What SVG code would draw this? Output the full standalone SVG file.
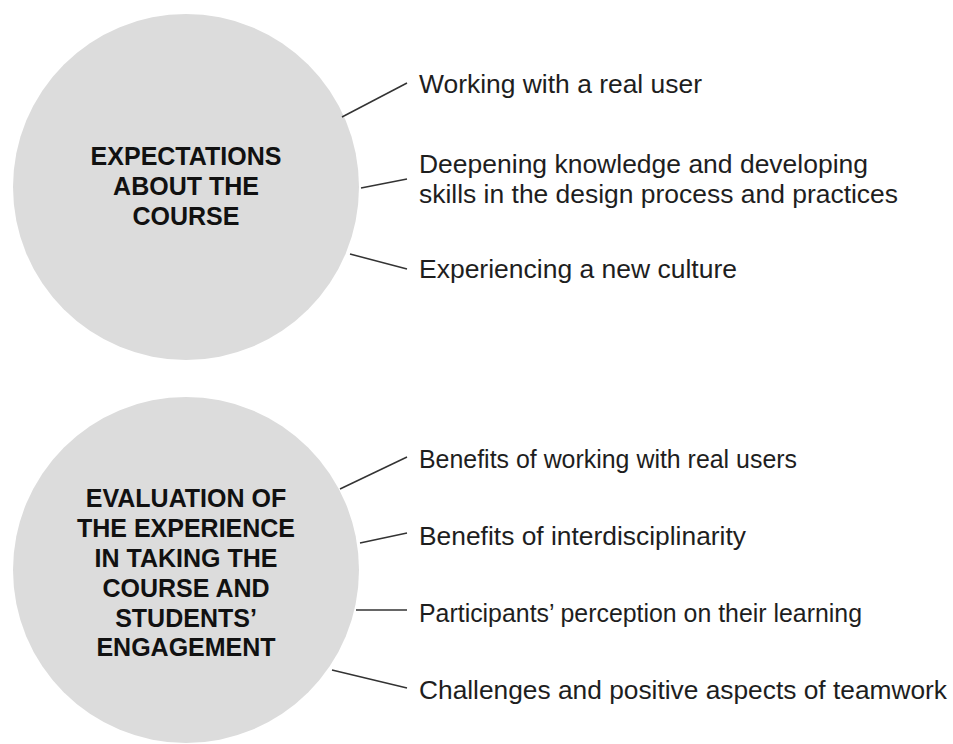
<svg xmlns="http://www.w3.org/2000/svg" width="953" height="744" viewBox="0 0 953 744">
<style>
.hub{fill:#dcdcdc;stroke:none}
.hubtxt{font-family:"Liberation Sans",Arial,sans-serif;font-weight:bold;font-size:25px;fill:#111;text-anchor:middle}
.item{font-family:"Liberation Sans",Arial,sans-serif;font-size:25.5px;fill:#1e1e1e}
.conn line{stroke:#333;stroke-width:1.5}
</style>
<rect width="953" height="744" fill="#ffffff"/>
<g id="node-expectations">
<circle class="hub" cx="186" cy="187" r="173"/>
<text class="hubtxt" x="186" y="165">EXPECTATIONS</text>
<text class="hubtxt" x="186" y="195">ABOUT THE</text>
<text class="hubtxt" x="186" y="225">COURSE</text>
</g>
<g id="node-evaluation">
<circle class="hub" cx="186" cy="570" r="173"/>
<text class="hubtxt" x="186" y="507">EVALUATION OF</text>
<text class="hubtxt" x="186" y="537">THE EXPERIENCE</text>
<text class="hubtxt" x="186" y="567">IN TAKING THE</text>
<text class="hubtxt" x="186" y="597">COURSE AND</text>
<text class="hubtxt" x="186" y="627">STUDENTS’</text>
<text class="hubtxt" x="186" y="656">ENGAGEMENT</text>
</g>
<g id="connectors" class="conn">
<line x1="342" y1="117" x2="407" y2="83"/>
<line x1="361" y1="188" x2="407" y2="179"/>
<line x1="350" y1="254" x2="407" y2="269"/>
<line x1="340" y1="489" x2="407" y2="457"/>
<line x1="360" y1="543" x2="407" y2="533"/>
<line x1="356" y1="610" x2="407" y2="610"/>
<line x1="332" y1="670" x2="407" y2="688"/>
</g>
<g id="item-real-user"><text class="item" x="419" y="93" textLength="283" lengthAdjust="spacingAndGlyphs">Working with a real user</text></g>
<g id="item-deepening">
<text class="item" x="419" y="173" textLength="449" lengthAdjust="spacingAndGlyphs">Deepening knowledge and developing</text>
<text class="item" x="419" y="203" textLength="479" lengthAdjust="spacingAndGlyphs">skills in the design process and practices</text>
</g>
<g id="item-culture"><text class="item" x="419" y="278" textLength="318" lengthAdjust="spacingAndGlyphs">Experiencing a new culture</text></g>
<g id="item-benefits-users"><text class="item" x="419" y="468" textLength="378" lengthAdjust="spacingAndGlyphs">Benefits of working with real users</text></g>
<g id="item-interdisciplinarity"><text class="item" x="419" y="545" textLength="327" lengthAdjust="spacingAndGlyphs">Benefits of interdisciplinarity</text></g>
<g id="item-perception"><text class="item" x="419" y="622" textLength="443" lengthAdjust="spacingAndGlyphs">Participants’ perception on their learning</text></g>
<g id="item-teamwork"><text class="item" x="419" y="699" textLength="528" lengthAdjust="spacingAndGlyphs">Challenges and positive aspects of teamwork</text></g>
</svg>
